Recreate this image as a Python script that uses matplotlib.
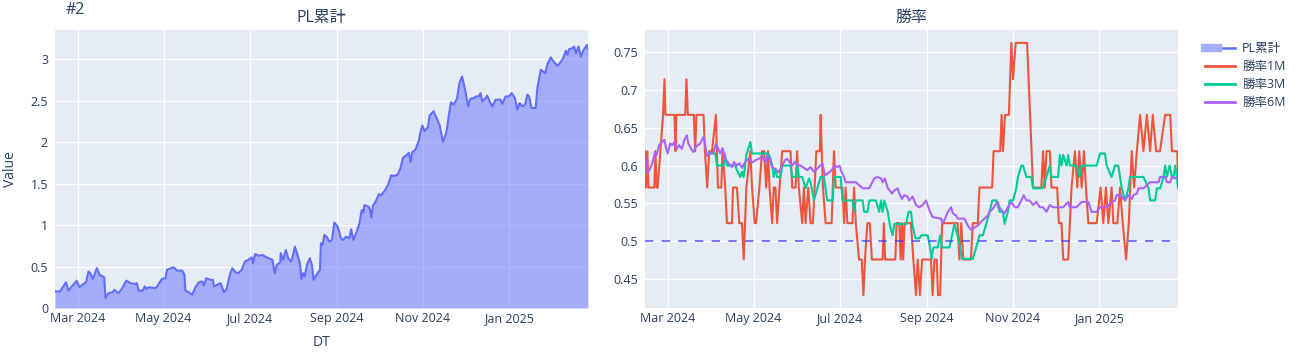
import matplotlib
matplotlib.use('Agg')
import matplotlib.pyplot as plt
import matplotlib.dates as mdates
from matplotlib.lines import Line2D
from matplotlib.legend_handler import HandlerTuple
from matplotlib.ticker import FuncFormatter, MultipleLocator
import pandas as pd

plt.rcParams['font.family'] = ['Open Sans', 'Noto Sans CJK JP', 'DejaVu Sans']

TEXT = '#2a3f5f'
BG = '#E5ECF6'
C_PL = '#636EFA'
C_PL_FILL = '#A4ADF8'
C_1M = '#EF553B'
C_3M = '#00CC96'
C_6M = '#AB63FA'

start = pd.Timestamp('2024-02-14')
last_day = 378

# PL累計 (days since start, value)
pl_days = [0, 3.6, 7.8, 9.5, 13, 15.4, 17.3, 20.2, 22, 23.7, 25, 26.8, 29.7, 31.6, 34.9, 35.8,
           38, 41, 42, 45, 47.4, 50.5, 53.4, 57, 58, 59.3, 62.4, 63.6, 64.8, 66.4, 71.2, 72.4,
           75.9, 78.3, 79.5, 82.3, 84.2, 86.6, 90.2, 91.8, 92.5, 94.9, 97.3, 99.6, 102, 104.4,
           105.6, 107.2, 110.3, 112, 112.7, 115, 117.4, 119.8, 121.7, 124, 125.7, 128.1, 130,
           132.4, 134.7, 137, 139.5, 140.4, 141.9, 144.7, 147.1, 149, 151.4, 154.2, 155.9, 157.3,
           159.7, 160.1, 161.8, 163.7, 165.4, 167.3, 168.4, 170.1, 172, 173.7, 174.8, 176, 177.2,
           178.6, 180.7, 182.2, 183.4, 185.5, 187.9, 188.6, 189.8, 191, 192.6, 194.5, 196.4,
           198.1, 200.5, 202.8, 204.5, 206.4, 208.8, 210, 211.6, 214, 215.9, 217.5, 218.7, 219.4,
           222.5, 223.5, 224.4, 225.4, 227.3, 229.7, 231.3, 233.7, 236.1, 238.5, 240.3, 243.2,
           244.9, 246.8, 249.1, 251, 252.2, 253.4, 255.7, 258.1, 259.3, 260.5, 262.1, 264.5,
           265.7, 268.5, 270.9, 272.8, 275.2, 277.6, 279.5, 280.8, 282.7, 285.1, 286.8, 288.7,
           290.6, 293, 294.6, 297, 298.7, 300.6, 301.8, 303, 304.9, 306.5, 308.2, 310.1, 312.5,
           316, 317.2, 319.6, 322, 323.9, 326.2, 327.9, 329.5, 331.4, 333.3, 335, 336.2, 337.9,
           340.9, 342.1, 344.5, 347.6, 349.3, 351.6, 354, 356.4, 358, 360.4, 362.3, 363.5, 364.6,
           367, 368.2, 369.4, 371.3, 372.9, 374.6, 376.5, 377.2, 378]
pl_vals = [0.20, 0.20, 0.31, 0.21, 0.28, 0.33, 0.25, 0.29, 0.31, 0.44, 0.42, 0.35, 0.48, 0.40, 0.37, 0.12,
           0.18, 0.19, 0.22, 0.18, 0.23, 0.33, 0.30, 0.29, 0.30, 0.21, 0.21, 0.26, 0.23, 0.25, 0.24, 0.26,
           0.35, 0.36, 0.46, 0.48, 0.49, 0.45, 0.45, 0.40, 0.21, 0.19, 0.16, 0.25, 0.31, 0.32,
           0.27, 0.36, 0.34, 0.34, 0.26, 0.28, 0.30, 0.19, 0.23, 0.40, 0.48, 0.43, 0.42,
           0.46, 0.56, 0.58, 0.61, 0.54, 0.65, 0.63, 0.64, 0.62, 0.60, 0.58, 0.42, 0.52,
           0.55, 0.66, 0.58, 0.70, 0.60, 0.56, 0.61, 0.74, 0.64, 0.54, 0.35, 0.42, 0.38,
           0.52, 0.60, 0.52, 0.34, 0.40, 0.46, 0.78, 0.76, 0.88, 0.86, 0.80, 0.82,
           1.03, 0.98, 0.84, 0.82, 0.86, 0.84, 0.95, 0.82, 0.92, 1.02, 1.18, 1.15, 1.24,
           1.22, 1.18, 1.09, 1.23, 1.28, 1.37, 1.36, 1.41, 1.48, 1.60, 1.59, 1.61,
           1.68, 1.81, 1.84, 1.87, 1.76, 1.88, 1.91, 2.02, 2.13, 2.20, 2.13, 2.18,
           2.32, 2.37, 2.28, 2.20, 2.00, 2.12, 2.34, 2.48, 2.45, 2.52, 2.71, 2.79,
           2.65, 2.43, 2.52, 2.53, 2.55, 2.55, 2.59, 2.49, 2.52, 2.56, 2.49, 2.43, 2.51,
           2.51, 2.46, 2.55, 2.55, 2.59, 2.53, 2.39, 2.47, 2.43, 2.45, 2.57, 2.55, 2.41,
           2.41, 2.65, 2.87, 2.83, 2.94, 3.02, 2.96, 2.92, 2.95, 3.01, 3.10, 3.05, 3.12,
           3.13, 3.15, 3.07, 3.15, 3.03, 3.10, 3.15, 3.17, 3.12]

# 勝率1M
w1_days = [0, 0.7, 1.7, 2.4, 6.6, 7.4, 8.3, 9.0, 12.8, 13.8, 14.5, 20.9, 21.6, 22.3, 28.5, 29.4,
           30.4, 34.6, 35.6, 36.5, 41.5, 42.5, 44.1, 45.6, 47.5, 50.3, 51.7, 54.1, 55.0, 56.9,
           58.1, 61.7, 62.4, 65.2, 66.9, 68.8, 70.0, 71.9, 74.7, 75.9, 77.8, 78.8, 81.1, 83.0,
           84.5, 85.9, 87.3, 88.3, 90.2, 91.3, 92.5, 93.7, 95.4, 97.3, 103.2, 104.4, 106.8,
           107.9, 109.1, 111.5, 112.7, 113.9, 115.8, 117.4, 119.1, 120.3, 121.5, 124.0, 124.6,
           125.3, 126.2, 128.1, 132.4, 134.0, 135.2, 140.0, 141.2, 142.3, 143.5, 147.1, 148.3,
           149.5, 151.8, 153.7, 154.9, 156.0, 157.7, 159.4, 160.9, 168.5, 169.4, 170.3, 177.5,
           178.4, 180.3, 181.3, 182.2, 183.1, 184.1, 188.6, 190.3, 192.2, 193.4, 195.0, 196.5,
           202.8, 204.0, 205.2, 206.9, 207.8, 209.3, 210.7, 221.7, 222.9, 224.3, 225.7, 231.1,
           232.5, 236.0, 237.2, 246.2, 247.2, 251.9, 252.9, 253.9, 255.3, 258.1, 259.8, 261.0,
           262.9, 271.0, 275.2, 281.1, 282.3, 283.5, 284.7, 287.1, 288.3, 292.3, 293.5, 295.4,
           296.6, 300.1, 301.3, 302.5, 304.9, 306.6, 308.0, 309.7, 311.3, 312.7, 314.4, 320.3,
           323.1, 325.0, 326.9, 328.6, 330.9, 332.1, 335.0, 336.9, 338.8, 341.2, 343.1, 345.2,
           346.9, 348.8, 351.1, 353.5, 355.9, 358.2, 360.1, 362.5, 365.2, 368.9, 372.5, 373.7,
           377.5, 378.0]
w1_vals = [.619, .571, .619, .571, .571, .619, .571, .571, .667, .714, .667, .667, .619, .667, .667, .714,
           .667, .667, .619, .667, .667, .619, .571, .619, .619, .667, .571, .571, .619, .571,
           .524, .524, .571, .571, .524, .524, .476, .571, .619, .571, .524, .524, .571, .619,
           .619, .571, .619, .571, .524, .571, .571, .524, .571, .619, .619, .571, .571,
           .619, .571, .524, .571, .524, .571, .524, .524, .571, .619, .619, .667,
           .619, .571, .524, .524, .619, .571, .571, .524, .571, .524, .524, .571,
           .524, .476, .476, .429, .476, .524, .524, .476, .476, .524, .476, .476,
           .524, .524, .476, .524, .476, .524, .524, .476, .429, .476, .429, .476,
           .476, .429, .476, .476, .429, .429, .524, .524, .476, .524, .476, .476,
           .524, .524, .571, .571, .619, .619, .667, .619, .667, .667, .762, .714,
           .762, .762, .571, .571, .619, .571, .619, .619, .571, .571, .524, .524,
           .476, .476, .524, .571, .619, .571, .619, .571, .619, .571, .524, .524,
           .571, .524, .571, .524, .571, .524, .524, .571, .524, .476, .524, .619,
           .571, .619, .667, .619, .667, .619, .667, .619, .619, .667, .667, .619,
           .619, .571]

# 勝率3M
w3_days = [45.1, 49.8, 51.0, 55.8, 56.5, 58.1, 64.1, 65.2, 67.6, 68.8, 70.0, 71.9, 74.7, 75.9, 87.3,
           89.0, 90.2, 91.3, 92.5, 93.7, 96.1, 97.3, 103.2, 104.4, 106.8, 107.9, 109.1, 111.5,
           113.9, 116.3, 117.4, 119.8, 122.2, 124.6, 126.9, 129.2, 133.1, 134.1, 138.8, 140.0,
           147.1, 148.3, 149.5, 154.3, 155.4, 157.8, 159.1, 163.7, 166.1, 167.4, 168.5, 169.7,
           172.2, 173.7, 175.6, 176.8, 185.1, 187.0, 188.6, 189.8, 191.7, 194.5, 196.0, 200.5,
           202.1, 203.3, 204.5, 207.6, 209.3, 210.7, 215.9, 217.8, 219.4, 221.6, 223.5, 224.7,
           232.5, 234.9, 237.2, 239.6, 242.0, 244.4, 246.3, 249.1, 251.5, 253.9, 255.0, 257.4,
           258.6, 261.0, 263.3, 264.5, 266.9, 268.1, 270.5, 274.0, 275.2, 282.0, 284.7, 287.1,
           288.3, 293.0, 294.2, 295.4, 296.6, 299.0, 300.1, 301.3, 306.0, 308.2, 309.4, 320.3,
           322.7, 326.2, 327.4, 330.9, 333.3, 335.7, 338.1, 340.5, 342.8, 344.0, 353.5, 357.1,
           358.2, 361.8, 363.0, 365.4, 367.7, 368.9, 370.1, 372.0, 373.7, 374.9, 376.0, 377.2,
           378.0]
w3_vals = [.616, .616, .600, .600, .616, .600, .600, .594, .585, .592, .585, .614, .631, .616, .616,
           .609, .600, .585, .596, .585, .585, .600, .600, .585, .585, .600, .585, .585,
           .570, .583, .578, .554, .570, .585, .585, .554, .554, .585, .585, .554,
           .554, .539, .554, .554, .539, .539, .554, .554, .539, .554, .539, .554,
           .539, .521, .508, .523, .523, .539, .539, .521, .504, .504, .508, .508,
           .492, .477, .492, .492, .508, .492, .492, .508, .523, .508, .492, .477,
           .477, .492, .508, .508, .523, .539, .554, .554, .539, .539, .523, .539,
           .554, .554, .570, .585, .600, .600, .585, .585, .570, .570, .585, .600,
           .585, .585, .614, .600, .614, .600, .614, .600, .600, .585, .600, .600,
           .616, .616, .600, .585, .600, .600, .570, .554, .570, .585, .585, .570,
           .554, .554, .570, .570, .585, .600, .585, .600, .585, .585, .600, .585,
           .570]

# 勝率6M
w6_days = [0, 1.9, 3.6, 5.2, 7.1, 8.3, 10, 11.9, 13.8, 14.7, 16.1, 17.8, 19.5, 20.9, 22.5, 24.2,
           26.1, 28, 29.7, 30.8, 32.7, 34.4, 35.6, 37.5, 39.1, 41.5, 42.7, 43.9, 46.3, 48.6,
           50.3, 51.7, 53.4, 55, 56.9, 59.3, 61.7, 63.1, 65.2, 66.9, 68.8, 71.2, 73.5, 75.9,
           78.3, 80.7, 83, 85.4, 86.6, 88.3, 90.2, 92.5, 94.9, 97.3, 99.2, 100.8, 102.5, 104.4,
           106.3, 108.4, 110.3, 112.7, 115.1, 117.4, 119.8, 122.2, 125.8, 127.6, 130, 132.4,
           134.5, 136.4, 138, 139.3, 141.2, 142.3, 149.5, 154.4, 159, 160.1, 162.6, 165, 167.4,
           168.5, 170.1, 172.2, 173.7, 175.1, 176.8, 179.2, 180.4, 182.2, 183.9, 186.2, 187.4,
           189.8, 192.2, 194.5, 196.9, 199.3, 201.7, 204, 210, 211.2, 214.8, 217.1, 218.3, 220.6,
           221.8, 226.5, 228.9, 231.3, 233.6, 236, 238.4, 240.8, 243.1, 244.3, 246.7, 249.1,
           250.2, 251.4, 253.8, 255, 257.4, 259.8, 262.2, 264.5, 266.9, 268.6, 270.5, 272.8,
           275.2, 277.6, 280, 282.3, 284.7, 287.1, 289.4, 296.6, 300.1, 301.3, 306, 309.7, 314.4,
           316.7, 320.3, 322.7, 327.4, 331, 333.3, 334.5, 337.4, 339.3, 340.5, 342.8, 345.2,
           346.4, 348.8, 350, 353.5, 355.9, 358.2, 364.2, 365.4, 368.9, 370.1, 372.5, 373.7,
           376, 378]
w6_vals = [.612, .590, .596, .603, .618, .614, .627, .631, .634, .625, .616, .629, .627, .631, .622, .627,
           .622, .634, .640, .629, .622, .618, .623, .627, .629, .638, .627, .613, .616, .618,
           .629, .623, .616, .623, .609, .603, .598, .605, .600, .603, .597, .605, .609, .604,
           .607, .609, .612, .604, .613, .609, .598, .595, .591, .600, .607, .609, .605, .600,
           .605, .601, .600, .597, .594, .598, .592, .596, .603, .587, .590, .594,
           .600, .598, .600, .592, .585, .578, .578, .570, .570, .574, .583, .585, .583,
           .578, .583, .570, .567, .563, .567, .570, .563, .556, .561, .559, .554,
           .559, .548, .545, .548, .554, .541, .532, .530, .523, .539, .545, .537, .534,
           .530, .530, .521, .515, .518, .521, .526, .530, .534, .539, .543, .550,
           .552, .545, .539, .537, .545, .552, .545, .545, .554, .561, .554, .554,
           .548, .552, .545, .545, .539, .548, .545, .545, .552, .545, .545, .552, .552,
           .539, .539, .545, .545, .552, .554, .561, .561, .556, .554, .561, .556,
           .561, .563, .570, .570, .574, .578, .578, .585, .585, .578, .578, .585,
           .583, .585]

hline_value = 0.5


def to_dates(days):
    return start + pd.to_timedelta(days, unit='D')


def style(ax):
    ax.set_facecolor(BG)
    for s in ax.spines.values():
        s.set_visible(False)
    ax.grid(True, color='white', lw=0.8)
    ax.set_axisbelow(True)
    ax.tick_params(length=0, labelsize=9, colors=TEXT)
    ax.tick_params(axis='y', pad=5)
    ax.tick_params(axis='x', pad=3)
    ax.xaxis.set_major_locator(mdates.MonthLocator(bymonth=[1, 3, 5, 7, 9, 11]))
    ax.xaxis.set_major_formatter(mdates.DateFormatter('%b %Y'))
    ax.yaxis.set_major_formatter(FuncFormatter(lambda v, p: f'{v:g}'))
    ax.set_xlim(start, start + pd.Timedelta(days=last_day))


fig = plt.figure(figsize=(12.98, 3.6), dpi=100)
ax1 = fig.add_axes([55 / 1298, 52 / 360, 533 / 1298, 278 / 360])
ax2 = fig.add_axes([645 / 1298, 52 / 360, 533 / 1298, 278 / 360])
style(ax1)
style(ax2)

pl_dates = to_dates(pl_days)
ax1.fill_between(pl_dates, pl_vals, 0, color=C_PL, alpha=0.5, lw=0)
ax1.plot(pl_dates, pl_vals, color=C_PL, lw=1.5)
ax1.set_ylim(0, 3.35)
ax1.yaxis.set_major_locator(MultipleLocator(0.5))

ax2.plot(to_dates(w1_days), w1_vals, color=C_1M, lw=1.5)
ax2.plot(to_dates(w3_days), w3_vals, color=C_3M, lw=1.5)
ax2.plot(to_dates(w6_days), w6_vals, color=C_6M, lw=1.5)
ax2.axhline(hline_value, color='#3030ff', alpha=0.75, lw=1.2, dashes=(5, 5))
ax2.set_ylim(0.412, 0.779)
ax2.yaxis.set_major_locator(MultipleLocator(0.05))

fig.text(66 / 1298, 1 - 10 / 360, '#2', fontsize=11.5, color=TEXT, ha='left', va='center')
fig.text(321 / 1298, 1 - 18 / 360, 'PL累計', fontsize=11.5, color=TEXT, ha='center', va='center')
fig.text(911 / 1298, 1 - 18 / 360, '勝率', fontsize=11.5, color=TEXT, ha='center', va='center')
fig.text(10 / 1298, 1 - 169 / 360, 'Value', fontsize=10, color=TEXT, rotation=90,
         ha='center', va='center')
fig.text(321 / 1298, 1 - 343 / 360, 'DT', fontsize=10, color=TEXT, ha='center', va='center')

pl_handle = (Line2D([], [], color=C_PL_FILL, lw=6),
             Line2D([], [], color=C_PL, lw=1.8, marker=None))
handles = [pl_handle,
           Line2D([], [], color=C_1M, lw=2),
           Line2D([], [], color=C_3M, lw=2),
           Line2D([], [], color=C_6M, lw=2)]
labels = ['PL累計', '勝率1M', '勝率3M', '勝率6M']
leg = fig.legend(handles, labels, loc='upper left', bbox_to_anchor=(1194 / 1298, 1 - 31 / 360),
                 frameon=False, fontsize=9, handlelength=2.4, labelspacing=0.39,
                 handletextpad=0.55, handler_map={tuple: HandlerTuple(ndivide=None)})
for t in leg.get_texts():
    t.set_color(TEXT)

fig.savefig('out.png', dpi=100)
